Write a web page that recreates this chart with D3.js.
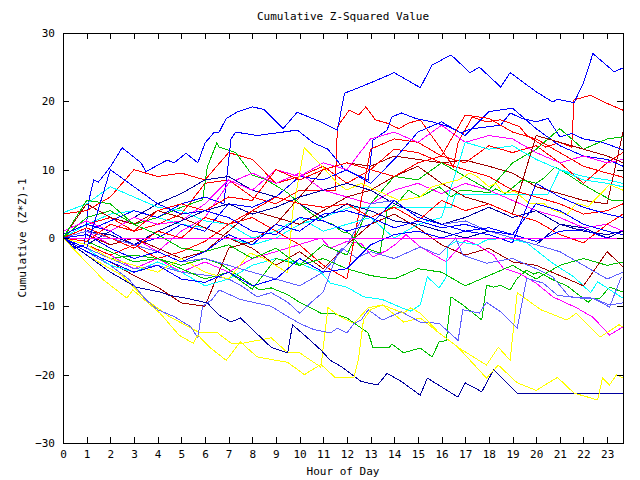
<!DOCTYPE html>
<html>
<head>
<meta charset="utf-8">
<script src="https://cdn.jsdelivr.net/npm/d3@7"></script>
<style>
  body { margin: 0; background: #fff; }
  text { font-family: "DejaVu Sans Mono", monospace; font-size: 11px; fill: #000; }
</style>
</head>
<body>
<script>
// Hour of the day for each hourly reading
var hours = [0,1,2,3,4,5,6,7,8,9,10,11,12,13,14,15,16,17,18,19,20,21,22,23,23.67];

// Tick labels
var xTicks = d3.range(0, 24);
var yTicks = [-30, -20, -10, 0, 10, 20, 30];

// Sensors read at their corners (hour, value)
var blueTopHours  = [0,0.5,0.9,1.1,1.3,1.5,2,2.5,3.3,3.5,4.4,4.7,5.2,5.7,6,6.4,6.6,6.9,7.4,8,8.5,9.3,9.9,10.9,11.6,11.9,12.5,13.2,14,14.6,15.1,15.6,16.4,17.2,17.6,18.5,18.9,20,20.7,20.9,21.6,22,22.4,23.3,23.67];
var blueTopValues = [0,-1.5,-1,5.6,8.5,8.2,10.4,13.2,11,9.7,11.4,11,12.4,11,13.9,15.5,15.5,17.5,18.5,19.2,18.8,16,18.4,17,15.8,21.2,22,23,24.2,23,22,25.3,26.8,24.2,25,22.1,24.2,21.4,19.9,20.3,19.8,22.7,27,24.3,24.9];

var blue2Hours  = [0,1,2,3,4,5,6,6.8,7.1,7.3,8.2,9.3,9.9,10.6,11.2,11.9,12.9,13.1,13.7,13.9,14.3,14.9,15.6,16.3,16.8,17.3,18.5,18.9,19.4,20,20.5,21,21.5,22,22.8,23.67];
var blue2Values = [0,1,2.5,4,3,5,6,5,14.5,15.5,15,15.5,15.8,13.9,13,10,8.5,14.3,15.8,17.7,18.3,17.5,17,16.3,15.4,16,16.5,18.3,17.5,17,17.5,14.8,15.3,14.5,14,12.9];

var darkBlueLowHours  = [0,1,2,3.1,4.1,4.5,5.2,6.1,6.6,7.1,7.5,8.8,9.5,9.7,10.3,10.9,11.3,11.8,12.6,13.3,13.7,14.3,15.1,15.4,16.7,17,17.7,18.2,19.2,23.67];
var darkBlueLowValues = [0,-2.5,-5,-7.2,-7.9,-8.4,-8.8,-9.5,-11.3,-12.3,-11.7,-16,-16.8,-12.7,-14.5,-16.4,-17.9,-18.9,-21,-21.5,-19.8,-21,-23,-20.5,-23.3,-21.2,-22.5,-19.3,-22.7,-22.7];

var yellowLowHours  = [0,1.7,2.7,2.95,4.1,4.9,5.5,5.7,6.2,6.9,7.5,8.2,9.5,10.2,10.9,11.5,12.3,12.5,12.7,13,13.5,14.4,14.7,15.1,15.9,16.7,17.9,18.4,19.2,20,20.9,21.6,22.6,22.8,23.1,23.4,23.67];
var yellowLowValues = [0,-6.1,-8.8,-7.6,-11,-14.2,-15.4,-14.2,-16,-17.9,-15.2,-17.4,-18.2,-20,-18.5,-20.4,-20.4,-17.5,-12,-10.5,-9.8,-11,-10.2,-11,-13.9,-16,-20.5,-18.6,-21.2,-22.3,-20.4,-22.7,-23.7,-20.5,-21.5,-20,-20.5];

var yellowMidHours  = [0,1,2.5,3.5,4.5,5.8,6.5,7.1,7.6,8.8,9.5,10,10.9,11.2,11.7,12.3,12.9,13.5,14.4,15.1,15.9,16.7,17.9,18.4,18.9,19.2,20.2,21.3,21.7,22.7,23.5,23.67];
var yellowMidValues = [0,-2.5,-5.5,-9,-11.5,-13.9,-13.8,-15.4,-15.4,-14.6,-16.8,-16.8,-18.9,-10.2,-11.5,-12.5,-10.2,-9.8,-12.3,-11.7,-13.9,-16,-18.6,-16,-17.9,-8,-10.5,-12,-11,-14.5,-12.7,-13];

var yellowHighHours  = [0,1,2,3,4,5,6,7,7.9,8.5,9.5,9.7,10.2,10.9,11.6,12,12.6,12.9,13.5,14.2,15.1,15.6,16.7,17.2,17.5,18,18.3,18.6,19.1,19.7,20.3,20.7,21.3,21.7,22.2,23.1,23.67];
var yellowHighValues = [0,-1,-3,-4,-5,-3,-5,-6,-2.2,-3,-5.1,3.7,13.2,10.7,8,7,8,7.5,6.6,5.5,6,7.5,8.5,9.5,9,7.5,8,6.6,6.8,5.1,5.1,4.1,3.4,5.1,4.6,7.8,7];

var lightBlue1Hours  = [0,1,2,2.8,3.5,4,4.7,5.4,5.7,5.9,6.3,6.6,7.5,8.8,9.5,10,10.6,11.3,11.6,12,12.3,12.6,12.9,13.5,14.3,15.1,15.9,16.7,16.9,17.6,17.9,18.5,19.2,19.6,20.3,20.9,21.9,22.4,23.1,23.6];
var lightBlue1Values = [0,-2,-4,-6.1,-9,-10.5,-11.5,-13,-14.6,-10,-9,-7.6,-9,-10,-11.5,-12.5,-13.4,-13.9,-13.2,-13.9,-12.5,-12,-10.5,-12,-10.8,-12.3,-12.5,-15,-10.5,-11,-9.4,-10.8,-13.2,-5.9,-6.6,-8.4,-8.8,-8.8,-10.1,-5.7];

var lightBlue2Hours  = [0,1,2,3,4,5,6.6,7,7.5,8.2,8.8,9.5,10,10.5,11,11.6,11.8,12.4,13,14,15.1,15.9,16.6,16.9,17.9,19,20,20.7,21.4,22.4,23.1,23.67];
var lightBlue2Values = [0,-1.5,-3,-4.5,-4,-5,-5.7,-6,-6.9,-8.6,-8,-9.4,-11,-9.4,-7.9,-2.2,-1.5,-2.9,-2,-3,-1.3,-2.5,0,-2.5,-3.7,-3,-4.5,-5.7,-8.6,-8.8,-9.8,-9.5];

var cyan1Hours  = [0,1,2,3,4,5,6,7,8,9,10,11,12.05,16.4,16.6,20.5,21,22,23,23.67];
var cyan1Values = [0,2,3.5,4,3,2,1.5,0,-1,0,2,3,4.4,4.4,6.4,6.4,10,9,8.5,8];

var cyan2Hours  = [0,1,2,3,4,5,6,7,8,9,10,10.9,11.3,12,12.7,13.5,14.3,14.7,15.1,15.4,15.9,16.2,16.25,16.6,17.5,17.9,18.7,19.6,20.7,21.6,22.3,22.6,23.3,23.67];
var cyan2Values = [0,-1.5,-4,-5,-3.5,-5,-7,-6,-4,-3,-3.7,-5,-6.6,-7.2,-8.6,-9,-10.2,-10.7,-9.8,-5.7,-7.3,-5.7,-1.3,-0.5,-1,-0.3,0,-0.7,-3.7,-5.7,-8,-6.4,-8,-8.8];

var magenta3Hours  = [0,1,2,3,4,5,6,7,8,9,10.9,11.3,12,12.6,13.1,13.7,14.1,14.5,15.1,16.2,17,17.5,18.2,18.6,19.3,20,20.7,21.7,22.4,23.1,23.67];
var magenta3Values = [0,-1,-2.5,-4.5,-3,-5,-3.5,-5,-3,-2,0,-1.5,-0.5,-0.8,-2.8,-1.8,-0.8,0.5,-1.3,-3.5,-0.3,-1,-2.5,-4.4,-5.2,-6.6,-8.6,-10.2,-11.6,-14.2,-13];

var green1Hours  = [0,1,2,3,4,5,6,6.6,7.5,8.3,8.8,9.5,10,10.9,11.4,12,12.9,13.1,13.8,13.9,14.4,15.1,15.6,15.9,16.2,16.4,16.9,17.7,17.9,18.2,18.5,18.9,19.2,19.6,19.9,20.1,20.7,21.3,22.2,22.4,22.7,23.1,23.67];
var green1Values = [0,-1,-3,-2.5,-3,-4,-3,-3.7,-5.7,-7.6,-7.3,-8.3,-9.4,-11,-11,-11.7,-13.9,-16,-16,-15.5,-16.8,-16.1,-17.4,-15.2,-15,-8.6,-9.8,-12,-6.9,-7.2,-6.9,-7.6,-5.9,-4.7,-5.3,-5,-6.1,-7,-9.4,-8.8,-8.8,-7.2,-7.9];

var green2Hours  = [0,1,2,3,4,5,5.9,6.1,6.5,6.6,7.3,8,8.6,9.5,10.3,10.9,11.4,11.8,12.1,12.6,13.4,13.7,14.1,14.6,15.1,15.9,16.4,16.8,17.6,18,18.3,18.7,19.4,20,20.3,20.8,21.3,21.9,22.6,23.2,23.67];
var green2Values = [0,3,4,2,3,4.5,5.6,10.4,13.9,13.3,12.5,9.2,8.5,6.6,4.1,2.6,2,0.9,0.7,-1.3,-2.2,4.1,5,7,6,7.5,6,7,6.8,6.6,7.2,6.5,8.5,8,8.7,10.4,9.4,8,6.6,5.5,5.5];

var red1Hours  = [0,1,2,3,4,5,6,7,8,9,10,11.5,11.6,12.1,12.5,12.8,13.2,13.7,14.2,14.6,15.1,15.8,16.5,16.7,17.3,17.9,18.5,19.3,19.6,20.4,21,21.5,21.6,22.3,22.8,23.67];
var red1Values = [0,2,3,1,2,3.5,8,8.5,6,5,7,7,16.3,18.7,18,19.2,17.3,16.8,16,16.8,17.3,13.9,10.4,14,17.7,17,17.3,16.3,15,13.3,14,13.3,20.2,20.9,20,18.7];

// Remaining sensors, one value per hour
var blue3       = [0.5,2,1,-1,0,2,1,5,4.5,6,9,8.5,10,8,11.5,15.5,17,15,18.5,19,16,13.5,12,11.5,10.5];
var blue4       = [0,0.5,-1.5,-3,-2,-3.5,-2,0.5,-1,2,1,3.5,4,3,1.5,2.5,1.5,2,1,0.5,-0.5,1,1.2,0,0];
var blue5       = [0,-2,-3.5,-5,-4,-6,-6.5,-5,-7,-6,-3,-5,-4.5,-1,0.5,1,0,1,0.5,-0.7,8,6,4.5,3.5,3];
var blue6       = [0,-1.5,10,7.5,5,3.5,4,3,1,0.5,3,2.5,1,2,5.5,3,2,1,1.5,0.5,5,4,2,1,0.5];
var darkBlue2   = [0,-1,1,3,5,6.5,8.5,9,7,6,5,3,5,4,2.5,2,1,0,1,0,-1,2,1.5,0,1];
var darkBlue3   = [0,1,0.5,-1,1,2.5,4,5,3.5,4.5,6,7,8,7,5,3.5,2,3,4.5,3,4,2,1,0.5,1];
var lightBlue3  = [0,1,0,-1,-2,-3.5,-3,-4,-5,-6,-7,-5,-1,5,5.5,3,2,2.5,1,0,-1,-2,-4,-6,-5];
var cyan3       = [3.7,5,7.5,6,4.5,4,2.5,2,0,1,3,1,2,3,0,2,3,14,13,13.5,11.5,10,8.5,8,7.5];
var magentaFlat = [0,0,0,0,0,0,0,0,0,0,0,0,0,0,0,0,0,0,0,0,0,0,0,0,0];
var magenta2    = [0,1,-1,0,-2,1,3,8,9.5,8,9.5,7,6,5,7,8,6.5,8,7,5.5,4,3,1.5,2,1];
var magenta4    = [1,2.5,1,3,2,2.5,5,8.5,7,10,9,11,10,14.5,15.5,14,16.5,14,15,14.5,12.5,11,12,11,11.5];
var green3      = [0,-0.5,-2,-3.5,-3,-4.5,-6,-5,-7.5,-3,-4,-1,-2.5,5,9,8.5,11,9,7,11,13,16,13,14.5,14.8];
var green4      = [0,5.5,5,2,0.5,-1.5,-2,-1,-3,-1.5,-4,-3,-4.5,-5.5,-6,-4.5,-5,-7,-5.5,-4,-6,-4,-3,-4,-3.5];
var red2        = [3.5,4,6,10,9,9.5,8.5,12.5,11.5,8,9,10.5,8,10,13,12.5,11,10,9,7,6,5,3.5,4,5];
var red3        = [0,-1,-2.5,-1,-3,-2,-0.5,2,3,1,-1,-4,-6,13,14.5,14,12,11,13.5,12.5,13.5,11,8,11,12.5];
var red4        = [0,1.5,0,-1.5,1,0,3,2,4,6,5,4.5,5,3,4.5,2.5,5.5,4,5,3.5,2.5,0.5,-0.7,2,3.5];
var red5        = [0,-0.5,2,1,4,5,4,6,5.5,10,8.5,10,11,10,9,11,12,18,17.5,15.5,14.5,12.5,10.5,9.5,8.9];
var darkRed1    = [0,-2,-3.5,-5.5,-7.2,-9.5,-10,-1.5,-0.5,2,6,10,11,10.5,12,11.5,11,11.4,10.5,9.5,7.5,6.5,5.5,5,15.5];
var darkRed2    = [0,5,3,2,4,3,1.5,0,-1.5,-4,-2,-4.5,-1,2,3.5,1.5,-1,-2.5,-1.5,-3.5,-4,-5.5,-7,-2,-4.2];
var darkRed3    = [0,0.5,-1,0,-1.5,-3,-2,1,4,3,2,4,6,7,9,10.5,8,6,5,3.5,15,14,13,12,11];

// Pen colours
var colors = {
    red: "#ff0000", green: "#00c000", blue: "#0000ff", magenta: "#ff00ff",
    cyan: "#00ffff", darkRed: "#a00000", yellow: "#ffff00", darkBlue: "#0000a0", lightBlue: "#6060ff"
};

var series = [
    {h: red1Hours, v: red1Values, color: colors.red},
    {h: green1Hours, v: green1Values, color: colors.green},
    {h: blueTopHours, v: blueTopValues, color: colors.blue},
    {h: magenta3Hours, v: magenta3Values, color: colors.magenta},
    {h: cyan1Hours, v: cyan1Values, color: colors.cyan},
    {h: hours, v: darkRed1, color: colors.darkRed},
    {h: yellowMidHours, v: yellowMidValues, color: colors.yellow},
    {h: darkBlueLowHours, v: darkBlueLowValues, color: colors.darkBlue},
    {h: lightBlue1Hours, v: lightBlue1Values, color: colors.lightBlue},
    {h: hours, v: red2, color: colors.red},
    {h: green2Hours, v: green2Values, color: colors.green},
    {h: blue2Hours, v: blue2Values, color: colors.blue},
    {h: hours, v: magenta2, color: colors.magenta},
    {h: cyan2Hours, v: cyan2Values, color: colors.cyan},
    {h: hours, v: darkRed2, color: colors.darkRed},
    {h: yellowLowHours, v: yellowLowValues, color: colors.yellow},
    {h: hours, v: darkBlue2, color: colors.darkBlue},
    {h: lightBlue2Hours, v: lightBlue2Values, color: colors.lightBlue},
    {h: hours, v: red3, color: colors.red},
    {h: hours, v: green3, color: colors.green},
    {h: hours, v: blue3, color: colors.blue},
    {h: hours, v: magenta4, color: colors.magenta},
    {h: hours, v: cyan3, color: colors.cyan},
    {h: hours, v: darkRed3, color: colors.darkRed},
    {h: yellowHighHours, v: yellowHighValues, color: colors.yellow},
    {h: hours, v: darkBlue3, color: colors.darkBlue},
    {h: hours, v: lightBlue3, color: colors.lightBlue},
    {h: hours, v: red4, color: colors.red},
    {h: hours, v: green4, color: colors.green},
    {h: hours, v: blue4, color: colors.blue},
    {h: hours, v: red5, color: colors.red},
    {h: hours, v: blue5, color: colors.blue},
    {h: hours, v: blue6, color: colors.blue},
    {h: hours, v: magentaFlat, color: colors.magenta}
];

// Set the dimensions and margins of the chart
var margin = {top: 33, right: 17, bottom: 37, left: 63},
    width = 640,
    height = 480;

var svg = d3.select("body").append("svg")
    .attr("width", width)
    .attr("height", height);

var x = d3.scaleLinear().domain([0, 23.67]).range([margin.left, width - margin.right]);
var y = d3.scaleLinear().domain([-30, 30]).range([height - margin.bottom, margin.top]);

// Lines
svg.append("g")
    .selectAll("path")
    .data(series)
    .enter().append("path")
    .attr("d", function(s) {
        return d3.line()
            .x(function(d, i) { return x(s.h[i]); })
            .y(function(d) { return y(d); })(s.v);
    })
    .attr("fill", "none")
    .attr("stroke", function(s) { return s.color; })
    .attr("stroke-width", 1)
    .attr("shape-rendering", "crispEdges");

// Axes with inward ticks on all four sides
var tick = 6;
function styleAxis(g) {
    g.select(".domain").remove();
    g.selectAll("line").attr("stroke", "#000").attr("shape-rendering", "crispEdges");
    g.selectAll("text").style("font-family", "DejaVu Sans Mono, monospace").style("font-size", "11px");
}

svg.append("g")
    .attr("transform", "translate(0," + (height - margin.bottom) + ")")
    .call(d3.axisBottom(x).tickValues(xTicks).tickSize(-tick).tickPadding(7))
    .call(styleAxis);

svg.append("g")
    .attr("transform", "translate(0," + margin.top + ")")
    .call(d3.axisTop(x).tickValues(xTicks).tickSize(-tick).tickFormat(""))
    .call(styleAxis);

svg.append("g")
    .attr("transform", "translate(" + margin.left + ",0)")
    .call(d3.axisLeft(y).tickValues(yTicks).tickSize(-tick).tickPadding(8))
    .call(styleAxis);

svg.append("g")
    .attr("transform", "translate(" + (width - margin.right) + ",0)")
    .call(d3.axisRight(y).tickValues(yTicks).tickSize(-tick).tickFormat(""))
    .call(styleAxis);

// Border
svg.append("rect")
    .attr("x", margin.left)
    .attr("y", margin.top)
    .attr("width", width - margin.left - margin.right)
    .attr("height", height - margin.top - margin.bottom)
    .attr("fill", "none")
    .attr("stroke", "#000")
    .attr("shape-rendering", "crispEdges");

// Titles
svg.append("text")
    .attr("x", (margin.left + width - margin.right) / 2)
    .attr("y", 20)
    .attr("text-anchor", "middle")
    .text("Cumulative Z-Squared Value");

svg.append("text")
    .attr("x", (margin.left + width - margin.right) / 2)
    .attr("y", 475)
    .attr("text-anchor", "middle")
    .text("Hour of Day");

svg.append("text")
    .attr("transform", "translate(26," + y(0) + ") rotate(-90)")
    .attr("text-anchor", "middle")
    .text("Cumulative (Z*Z)-1");
</script>
</body>
</html>
